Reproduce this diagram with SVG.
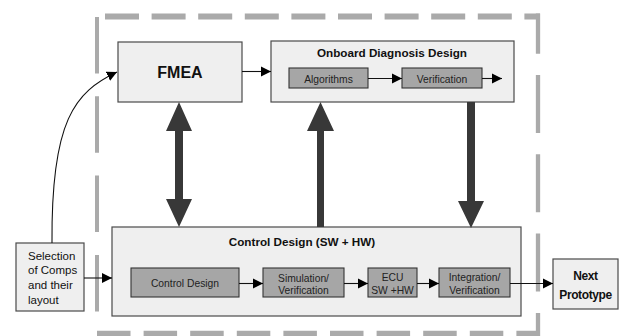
<svg xmlns="http://www.w3.org/2000/svg" width="623" height="336" viewBox="0 0 623 336">
<defs>
<marker id="ah" viewBox="0 0 10 10" refX="10" refY="5" markerWidth="10" markerHeight="10.5" markerUnits="userSpaceOnUse" orient="auto">
<path d="M0,0 L10,5 L0,10 z" fill="#000"/>
</marker>
</defs>
<style>
.outer{fill:#efefef;stroke:#4a4a4a;stroke-width:1.2}
.inner{fill:#a6a6a6;stroke:#333;stroke-width:1.1}
.title{font-family:"Liberation Sans",Arial,sans-serif;font-weight:bold;font-size:11.7px;fill:#111;text-anchor:middle}
.lbl{font-family:"Liberation Sans",Arial,sans-serif;font-size:10.3px;fill:#222;text-anchor:middle}
.sel{font-family:"Liberation Sans",Arial,sans-serif;font-size:11.5px;fill:#111}
.conn{fill:none;stroke:#111;stroke-width:1.1;marker-end:url(#ah)}
.big{fill:#383838}
.dash{fill:none;stroke:#aaaaaa}
</style>
<rect width="623" height="336" fill="#fff"/>
<g id="boundary">
<line class="dash" x1="105" y1="16.5" x2="540" y2="16.5" stroke-width="6" stroke-dasharray="34 12.6"/>
<line class="dash" x1="538" y1="13.5" x2="538" y2="336" stroke-width="4.3" stroke-dasharray="58 21.3" stroke-dashoffset="17.8"/>
<line class="dash" x1="97" y1="333.5" x2="540" y2="333.5" stroke-width="5.5" stroke-dasharray="33.5 13.1"/>
<line class="dash" x1="97" y1="17" x2="97" y2="333" stroke-width="4" stroke-dasharray="56.5 22.8"/>
</g>
<g id="fmea">
<rect class="outer" x="118" y="42" width="124" height="60"/>
<text class="title" x="180" y="78" style="font-size:16px">FMEA</text>
</g>
<g id="onboard">
<rect class="outer" x="271" y="41" width="243" height="61"/>
<text class="title" x="392" y="57">Onboard Diagnosis Design</text>
</g>
<g id="algorithms">
<rect class="inner" x="289" y="68" width="79" height="20"/>
<text class="lbl" x="328.5" y="82.5">Algorithms</text>
</g>
<g id="verification">
<rect class="inner" x="402" y="68" width="80" height="20"/>
<text class="lbl" x="442" y="82.5">Verification</text>
</g>
<g id="control">
<rect class="outer" x="112" y="227" width="409" height="89"/>
<text class="title" x="302" y="246">Control Design (SW + HW)</text>
</g>
<g id="controldesign">
<rect class="inner" x="131" y="268" width="108" height="29"/>
<text class="lbl" x="185" y="287">Control Design</text>
</g>
<g id="simulation">
<rect class="inner" x="263" y="268" width="81" height="29"/>
<text class="lbl" x="303.5" y="281.5">Simulation/</text>
<text class="lbl" x="303.5" y="294">Verification</text>
</g>
<g id="ecu">
<rect class="inner" x="368" y="268" width="49" height="29"/>
<text class="lbl" x="392.5" y="281">ECU</text>
<text class="lbl" x="392.5" y="294">SW +HW</text>
</g>
<g id="integration">
<rect class="inner" x="439" y="268" width="71" height="29"/>
<text class="lbl" x="474.5" y="281">Integration/</text>
<text class="lbl" x="474.5" y="294">Verification</text>
</g>
<g id="selection">
<rect class="outer" x="16" y="243" width="68" height="68"/>
<text class="sel" x="28" y="259.5">Selection</text>
<text class="sel" x="28" y="274">of Comps</text>
<text class="sel" x="28" y="289">and their</text>
<text class="sel" x="28" y="303.5">layout</text>
</g>
<g id="next">
<rect class="outer" x="553" y="259" width="65" height="50"/>
<text class="title" x="585.5" y="280" style="font-size:12px;letter-spacing:-0.4px">Next</text>
<text class="title" x="585.5" y="298.5" style="font-size:12px;letter-spacing:-0.4px">Prototype</text>
</g>
<g id="connectors">
<line class="conn" x1="242" y1="71.5" x2="271" y2="71.5"/>
<line class="conn" x1="368" y1="78.5" x2="402" y2="78.5"/>
<line class="conn" x1="482" y1="78.5" x2="502" y2="78.5"/>
<line class="conn" x1="239" y1="283.5" x2="263" y2="283.5"/>
<line class="conn" x1="344" y1="283.5" x2="368" y2="283.5"/>
<line class="conn" x1="417" y1="283.5" x2="439" y2="283.5"/>
<line class="conn" x1="510" y1="283.5" x2="553" y2="283.5"/>
<line class="conn" x1="84" y1="278" x2="112" y2="278"/>
<path class="conn" d="M52,243 C51,120 75,92 117,72"/>
<polygon class="big" points="179,102 192,131 183,131 183,199 192,199 179,227 166,199 175,199 175,131 166,131"/>
<polygon class="big" points="320.5,102 334,131 324,131 324,227 317,227 317,131 307,131"/>
<polygon class="big" points="467,102 475,102 475,201 484,201 471,228 458,201 467,201"/>
</g>
</svg>
